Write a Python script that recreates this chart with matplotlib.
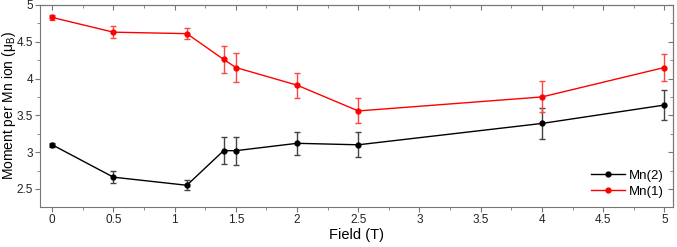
import matplotlib
matplotlib.use("Agg")
import matplotlib.pyplot as plt
from matplotlib.ticker import MultipleLocator, NullFormatter
from matplotlib.lines import Line2D

plt.rcParams['font.family'] = ['Liberation Sans', 'DejaVu Sans']

field = [0, 0.5, 1.1, 1.4, 1.5, 2, 2.5, 4, 5]
mn2 = [3.10, 2.66, 2.55, 3.02, 3.02, 3.12, 3.10, 3.39, 3.64]
mn2_err = [0.03, 0.08, 0.07, 0.18, 0.19, 0.16, 0.17, 0.21, 0.20]
mn1 = [4.83, 4.63, 4.61, 4.26, 4.15, 3.91, 3.56, 3.75, 4.15]
mn1_err = [0.03, 0.08, 0.07, 0.18, 0.20, 0.17, 0.17, 0.21, 0.19]

fig = plt.figure(figsize=(6.77, 2.47), dpi=100)
ax = fig.add_axes([0.059, 0.162, 0.935, 0.818])

ax.errorbar(field, mn2, yerr=mn2_err, color='black', marker='o', markersize=3.5,
            lw=1, capsize=2.5, elinewidth=1, ecolor='#444444')
ax.errorbar(field, mn1, yerr=mn1_err, color='#ff0000', marker='o', markersize=3.5,
            lw=1, capsize=2.5, elinewidth=1, ecolor='#ff4444')

ax.set_xlim(-0.1, 5.07)
ax.set_ylim(2.255, 5)
fmt = plt.FuncFormatter(lambda v, p: f'{v:g}')
ax.xaxis.set_major_locator(MultipleLocator(0.5))
ax.xaxis.set_minor_locator(MultipleLocator(0.25))
ax.yaxis.set_major_locator(MultipleLocator(0.5))
ax.yaxis.set_minor_locator(MultipleLocator(0.25))
ax.xaxis.set_major_formatter(fmt)
ax.yaxis.set_major_formatter(fmt)

ax.tick_params(axis='both', which='both', direction='out', labelsize=8.5,
               colors='#777777', labelcolor='#222222', pad=1.5)
ax.tick_params(which='major', length=3.5)
ax.tick_params(which='minor', length=2)

# mirrored ticks pointing inward on top and right
top = ax.secondary_xaxis('top')
top.xaxis.set_major_locator(MultipleLocator(0.5))
top.xaxis.set_minor_locator(MultipleLocator(0.25))
top.xaxis.set_major_formatter(NullFormatter())
top.tick_params(which='both', direction='in', colors='#777777')
top.tick_params(which='major', length=3.5)
top.tick_params(which='minor', length=2)
right = ax.secondary_yaxis('right')
right.yaxis.set_major_locator(MultipleLocator(0.5))
right.yaxis.set_minor_locator(MultipleLocator(0.25))
right.yaxis.set_major_formatter(NullFormatter())
right.tick_params(which='both', direction='in', colors='#777777')
right.tick_params(which='major', length=3.5)
right.tick_params(which='minor', length=2)

for a in (ax, top, right):
    for sp in a.spines.values():
        sp.set_color('#777777')

ax.set_xlabel('Field (T)', fontsize=10.5, labelpad=1.5)
ax.set_ylabel(r'Moment per Mn ion ($\mathregular{\mu_B}$)', fontsize=10)
ax.yaxis.set_label_coords(-0.035, 0.5)

handles = [Line2D([], [], color='black', marker='o', markersize=3.5, lw=1),
           Line2D([], [], color='#ff0000', marker='o', markersize=3.5, lw=1)]
ax.legend(handles, ['Mn(2)', 'Mn(1)'], loc='lower right', frameon=False, fontsize=9.5,
          handlelength=2.6, borderaxespad=0.3, labelspacing=0.3, handletextpad=0.3)

fig.savefig('out.png', dpi=100)
